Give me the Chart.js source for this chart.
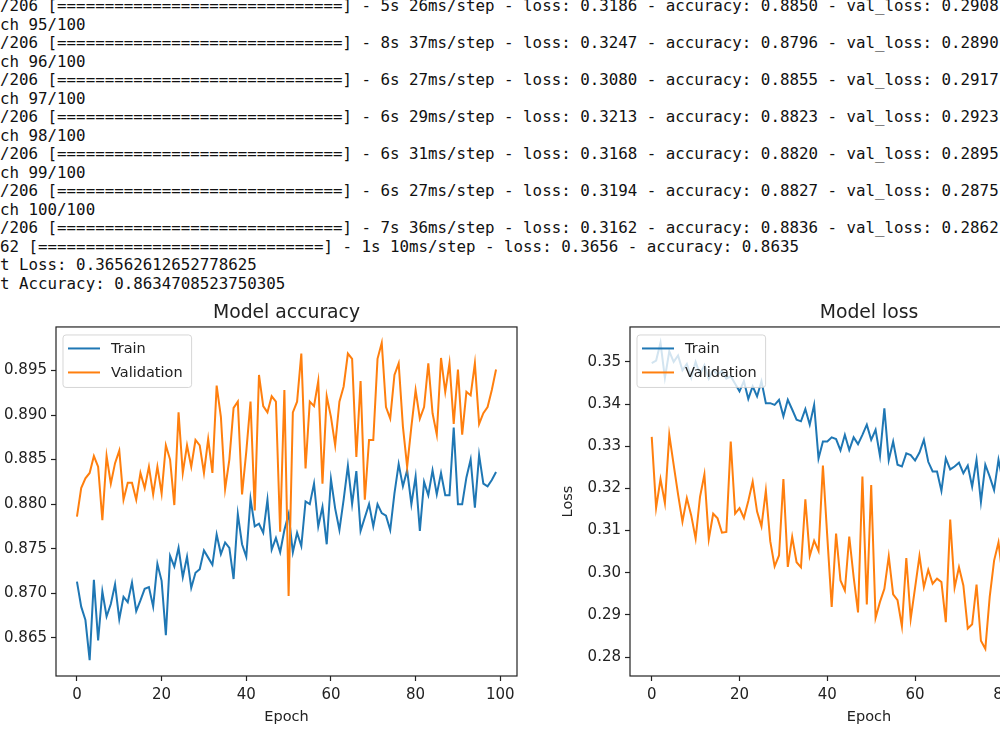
<!DOCTYPE html>
<html>
<head>
<meta charset="utf-8">
<title>Model accuracy / loss</title>
<script src="https://cdn.jsdelivr.net/npm/chart.js@4.4.1/dist/chart.umd.min.js"></script>
<style>
    html, body { margin: 0; padding: 0; background: #fff; }
    body { width: 1000px; height: 750px; overflow: hidden; position: relative; }
    #log {
        position: absolute; left: -28.5px; top: -3px; margin: 0;
        font-family: "DejaVu Sans Mono", monospace; font-size: 15.8px;
        line-height: 18.53px; color: #111; white-space: pre;
    }
    #accChart { position: absolute; left: -40px; top: 290px; }
    #lossChart { position: absolute; left: 555px; top: 290px; }
</style>
</head>
<body>
<pre id="log"></pre>
<canvas id="accChart" width="580" height="440"></canvas>
<canvas id="lossChart" width="575" height="440"></canvas>
<script>
// ---- data (last epochs from the training log) ----
const epochs = Array.from({ length: 100 }, (_, i) => i);

const trainAcc = [
    0.8713, 0.8685, 0.8670, 0.8625, 0.8715, 0.8647, 0.8702, 0.8674, 0.8688, 0.8710,
    0.8671, 0.8696, 0.8690, 0.8712, 0.8680, 0.8692, 0.8705, 0.8707, 0.8685, 0.8733,
    0.8714, 0.8653, 0.8742, 0.8730, 0.8751, 0.8718, 0.8741, 0.8706, 0.8723, 0.8727,
    0.8748, 0.8740, 0.8732, 0.8766, 0.8744, 0.8757, 0.8751, 0.8716, 0.8789, 0.8755,
    0.8741, 0.8806, 0.8775, 0.8778, 0.8768, 0.8805, 0.8749, 0.8762, 0.8746, 0.8771,
    0.8789, 0.8746, 0.8768, 0.8753, 0.8803, 0.8800, 0.8823, 0.8775, 0.8797, 0.8755,
    0.8828, 0.8795, 0.8771, 0.8805, 0.8843, 0.8800, 0.8837, 0.8770, 0.8785, 0.8800,
    0.8775, 0.8800, 0.8790, 0.8787, 0.8771, 0.8812, 0.8845, 0.8820, 0.8838, 0.8800,
    0.8831, 0.8770, 0.8825, 0.8810, 0.8838, 0.8811, 0.8835, 0.8810, 0.8810, 0.8886,
    0.8800, 0.8800, 0.8830, 0.8850, 0.8796, 0.8855, 0.8823, 0.8820, 0.8827, 0.8836
];
const valAcc = [
    0.8786, 0.8818, 0.8829, 0.8835, 0.8854, 0.8842, 0.8782, 0.8854, 0.8823, 0.8846,
    0.8860, 0.8805, 0.8824, 0.8824, 0.8805, 0.8835, 0.8818, 0.8842, 0.8811, 0.8842,
    0.8812, 0.8866, 0.8850, 0.8799, 0.8903, 0.8835, 0.8866, 0.8842, 0.8872, 0.8866,
    0.8835, 0.8873, 0.8835, 0.8933, 0.8898, 0.8817, 0.8850, 0.8908, 0.8915, 0.8811,
    0.8859, 0.8915, 0.8793, 0.8945, 0.8910, 0.8903, 0.8921, 0.8915, 0.8769, 0.8928,
    0.8697, 0.8903, 0.8915, 0.8969, 0.8840, 0.8915, 0.8910, 0.8938, 0.8823, 0.8921,
    0.8898, 0.8866, 0.8915, 0.8932, 0.8969, 0.8963, 0.8853, 0.8938, 0.8805, 0.8872,
    0.8872, 0.8963, 0.8981, 0.8909, 0.8896, 0.8945, 0.8958, 0.8887, 0.8842, 0.8887,
    0.8928, 0.8896, 0.8909, 0.8958, 0.8902, 0.8878, 0.8964, 0.8926, 0.8958, 0.8890,
    0.8951, 0.8878, 0.8926, 0.8922, 0.8958, 0.8890, 0.8902, 0.8909, 0.8928, 0.8951
];
const trainLoss = [
    0.3497, 0.3503, 0.3545, 0.3462, 0.3525, 0.3500, 0.3515, 0.3480, 0.3495, 0.3462,
    0.3500, 0.3470, 0.3492, 0.3460, 0.3480, 0.3470, 0.3478, 0.3460, 0.3466, 0.3448,
    0.3430, 0.3454, 0.3412, 0.3442, 0.3418, 0.3454, 0.3402, 0.3402, 0.3398, 0.3410,
    0.3371, 0.3410, 0.3387, 0.3363, 0.3359, 0.3388, 0.3351, 0.3398, 0.3271, 0.3311,
    0.3311, 0.3321, 0.3317, 0.3290, 0.3327, 0.3291, 0.3321, 0.3305, 0.3327, 0.3351,
    0.3315, 0.3339, 0.3277, 0.3390, 0.3267, 0.3311, 0.3256, 0.3252, 0.3283, 0.3279,
    0.3266, 0.3285, 0.3315, 0.3263, 0.3240, 0.3240, 0.3194, 0.3271, 0.3245, 0.3252,
    0.3261, 0.3236, 0.3254, 0.3204, 0.3268, 0.3168, 0.3256, 0.3228, 0.3196, 0.3268,
    0.3215, 0.3240, 0.3198, 0.3225, 0.3190, 0.3212, 0.3178, 0.3205, 0.3185, 0.3220,
    0.3170, 0.3198, 0.3160, 0.3186, 0.3247, 0.3080, 0.3213, 0.3168, 0.3194, 0.3162
];
const valLoss = [
    0.3322, 0.3154, 0.3222, 0.3165, 0.3327, 0.3256, 0.3186, 0.3121, 0.3177, 0.3136,
    0.3081, 0.3180, 0.3233, 0.3080, 0.3140, 0.3129, 0.3095, 0.3097, 0.3311, 0.3140,
    0.3153, 0.3130, 0.3170, 0.3216, 0.3145, 0.3110, 0.3195, 0.3075, 0.3015, 0.3041,
    0.3222, 0.3014, 0.3085, 0.3025, 0.3013, 0.3174, 0.3040, 0.3076, 0.3052, 0.3254,
    0.3085, 0.2919, 0.3093, 0.2982, 0.2958, 0.3086, 0.2990, 0.2906, 0.3228, 0.2925,
    0.3208, 0.2893, 0.2931, 0.2962, 0.3039, 0.2949, 0.2935, 0.2873, 0.3035, 0.2891,
    0.2965, 0.3040, 0.2966, 0.3007, 0.2974, 0.2986, 0.2978, 0.2883, 0.3126, 0.2965,
    0.3013, 0.2970, 0.2868, 0.2878, 0.2972, 0.2839, 0.2820, 0.2943, 0.3029, 0.3072,
    0.2985, 0.2930, 0.2965, 0.2900, 0.2945, 0.2793, 0.2920, 0.2895, 0.2935, 0.2870,
    0.2910, 0.2885, 0.2925, 0.2908, 0.2890, 0.2917, 0.2923, 0.2895, 0.2875, 0.2862
];

// notebook output above the figure
const bar = '[' + '='.repeat(30) + ']';
const logLines = [
    `206/206 ${bar} - 5s 26ms/step - loss: 0.3186 - accuracy: 0.8850 - val_loss: 0.2908 - val_accuracy: 0.8922`,
    'Epoch 95/100',
    `206/206 ${bar} - 8s 37ms/step - loss: 0.3247 - accuracy: 0.8796 - val_loss: 0.2890 - val_accuracy: 0.8958`,
    'Epoch 96/100',
    `206/206 ${bar} - 6s 27ms/step - loss: 0.3080 - accuracy: 0.8855 - val_loss: 0.2917 - val_accuracy: 0.8890`,
    'Epoch 97/100',
    `206/206 ${bar} - 6s 29ms/step - loss: 0.3213 - accuracy: 0.8823 - val_loss: 0.2923 - val_accuracy: 0.8902`,
    'Epoch 98/100',
    `206/206 ${bar} - 6s 31ms/step - loss: 0.3168 - accuracy: 0.8820 - val_loss: 0.2895 - val_accuracy: 0.8909`,
    'Epoch 99/100',
    `206/206 ${bar} - 6s 27ms/step - loss: 0.3194 - accuracy: 0.8827 - val_loss: 0.2875 - val_accuracy: 0.8928`,
    'Epoch 100/100',
    `206/206 ${bar} - 7s 36ms/step - loss: 0.3162 - accuracy: 0.8836 - val_loss: 0.2862 - val_accuracy: 0.8951`,
    `62/62 ${bar} - 1s 10ms/step - loss: 0.3656 - accuracy: 0.8635`,
    'Test Loss: 0.36562612652778625',
    'Test Accuracy: 0.8634708523750305'
];
document.getElementById('log').textContent = logLines.join('\n');

// ---- helpers ----
const BLUE = '#1f77b4';
const ORANGE = '#ff7f0e';
const TEXT = '#222';
const FONT = '"DejaVu Sans", sans-serif';
Chart.defaults.font.family = FONT;
Chart.defaults.font.size = 15;
Chart.defaults.color = TEXT;

// matplotlib style autoscale: 5% margin on each side
function limits(arrays) {
    const all = [].concat(...arrays);
    const lo = Math.min(...all), hi = Math.max(...all);
    const m = (hi - lo) * 0.05;
    return [lo - m, hi + m];
}

const frame = {
    id: 'frame',
    afterDatasetsDraw(chart) {
        const { ctx, chartArea: a } = chart;
        ctx.save();
        ctx.strokeStyle = TEXT;
        ctx.lineWidth = 1.2;
        ctx.strokeRect(a.left, a.top, a.right - a.left, a.bottom - a.top);
        ctx.restore();
    }
};

// legend box in the upper left corner of the axes
const boxLegend = {
    id: 'boxLegend',
    afterDatasetsDraw(chart) {
        const { ctx, chartArea: a } = chart;
        const items = chart.data.datasets;
        ctx.save();
        ctx.font = '14.5px ' + FONT;
        const textW = Math.max(...items.map(d => ctx.measureText(d.label).width));
        const x = a.left + 7, y = a.top + 8;
        const w = 48 + textW + 9, h = 52.5;
        ctx.beginPath();
        ctx.roundRect(x, y, w, h, 3);
        ctx.fillStyle = 'rgba(255,255,255,0.8)';
        ctx.fill();
        ctx.strokeStyle = 'rgba(204,204,204,0.8)';
        ctx.lineWidth = 1;
        ctx.stroke();
        items.forEach((d, i) => {
            const ly = y + 13.5 + i * 24;
            ctx.beginPath();
            ctx.moveTo(x + 5, ly);
            ctx.lineTo(x + 37, ly);
            ctx.strokeStyle = d.borderColor;
            ctx.lineWidth = 2;
            ctx.stroke();
            ctx.fillStyle = TEXT;
            ctx.textBaseline = 'middle';
            ctx.fillText(d.label, x + 48, ly + 1);
        });
        ctx.restore();
    }
};

function makeChart(id, title, yTitle, train, val, step, decimals, yWidth, padRight) {
    const [yMin, yMax] = limits([train, val]);
    const [xMin, xMax] = limits([epochs]);
    return new Chart(document.getElementById(id), {
        type: 'line',
        data: {
            datasets: [
                {
                    label: 'Train',
                    data: epochs.map((e, i) => ({ x: e, y: train[i] })),
                    borderColor: BLUE,
                    borderWidth: 2,
                    pointRadius: 0,
                    tension: 0,
                    order: 1
                },
                {
                    label: 'Validation',
                    data: epochs.map((e, i) => ({ x: e, y: val[i] })),
                    borderColor: ORANGE,
                    borderWidth: 2,
                    pointRadius: 0,
                    tension: 0,
                    order: 0
                }
            ]
        },
        options: {
            responsive: false,
            animation: false,
            layout: { padding: { left: 0, right: padRight, top: 0, bottom: 0 } },
            plugins: {
                legend: { display: false },
                tooltip: { enabled: false },
                title: {
                    display: true,
                    text: title,
                    fullSize: false,
                    color: TEXT,
                    font: { size: 18.8, weight: 'normal' },
                    padding: { top: 12, bottom: 2.4 }
                }
            },
            scales: {
                x: {
                    type: 'linear',
                    min: xMin,
                    max: xMax,
                    afterFit(scale) { scale.height = 54; },
                    border: { display: false },
                    grid: { drawOnChartArea: false, drawTicks: true, tickLength: 5, tickWidth: 1.2, color: TEXT },
                    ticks: { stepSize: 20, includeBounds: false, padding: 5, maxRotation: 0, autoSkip: false },
                    title: { display: true, text: 'Epoch', color: TEXT, font: { size: 14.5 }, padding: { top: 0, bottom: 4 } }
                },
                y: {
                    min: yMin,
                    max: yMax,
                    afterFit(scale) { scale.width = yWidth; },
                    border: { display: false },
                    grid: { drawOnChartArea: false, drawTicks: true, tickLength: 5, tickWidth: 1.2, color: TEXT },
                    ticks: {
                        stepSize: step,
                        includeBounds: false,
                        padding: 4,
                        callback: v => v.toFixed(decimals)
                    },
                    title: { display: true, text: yTitle, color: TEXT, font: { size: 14.5 }, padding: { top: 5, bottom: 0 } }
                }
            }
        },
        plugins: [frame, boxLegend]
    });
}

makeChart('accChart', 'Model accuracy', 'Accuracy', trainAcc, valAcc, 0.005, 3, 96, 23);
makeChart('lossChart', 'Model loss', 'Loss', trainLoss, valLoss, 0.01, 2, 75, 22);
</script>
</body>
</html>
